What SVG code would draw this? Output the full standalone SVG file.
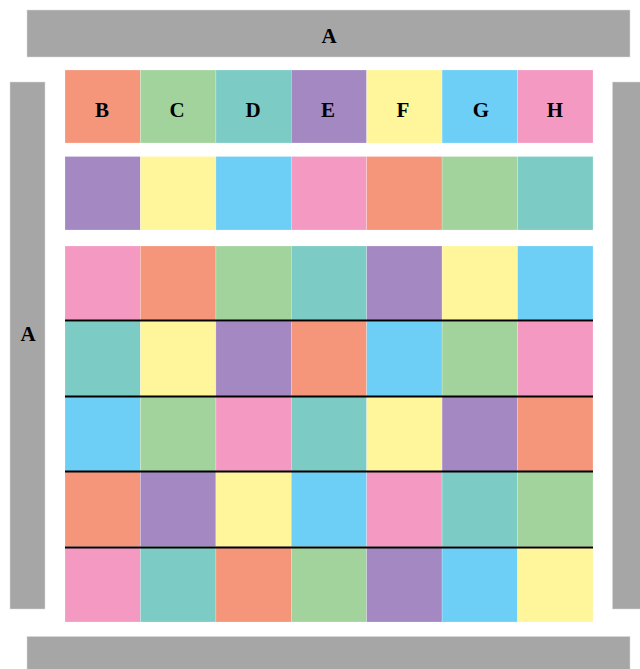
<svg xmlns="http://www.w3.org/2000/svg" width="640" height="669" viewBox="0 0 640 669">
<style>
.bar{fill:#a6a6a6;stroke:#d9d9d9;stroke-width:0.5}
.c{stroke:#ffffff;stroke-opacity:0.35;stroke-width:0.6}
.o{fill:#f5967a}.g{fill:#a3d39c}.t{fill:#7ccbc5}.p{fill:#a388c2}.y{fill:#fff59b}.b{fill:#6dcff6}.k{fill:#f49ac2}
.lbl{font-family:"Liberation Serif","Times New Roman",serif;font-weight:bold;font-size:21px;fill:#000;text-anchor:middle}
.sep{stroke:#000;stroke-width:2}
</style>
<rect width="640" height="669" fill="#ffffff"/>
<g id="bar-top"><rect class="bar" x="27" y="10" width="603" height="47"/><text class="lbl" x="329" y="43">A</text></g>
<g id="bar-left"><rect class="bar" x="10" y="82" width="35" height="527"/><text class="lbl" x="28" y="341">A</text></g>
<g id="bar-right"><rect class="bar" x="612.5" y="82" width="28" height="527"/></g>
<g id="bar-bottom"><rect class="bar" x="27" y="636.5" width="603" height="33"/></g>
<g id="header">
<rect class="c o" x="65" y="70" width="75.4" height="73"/>
<rect class="c g" x="140.4" y="70" width="75.5" height="73"/>
<rect class="c t" x="215.9" y="70" width="75.4" height="73"/>
<rect class="c p" x="291.3" y="70" width="75.4" height="73"/>
<rect class="c y" x="366.7" y="70" width="75.4" height="73"/>
<rect class="c b" x="442.1" y="70" width="75.5" height="73"/>
<rect class="c k" x="517.6" y="70" width="75.4" height="73"/>
<text class="lbl" x="102" y="117">B</text>
<text class="lbl" x="177" y="117">C</text>
<text class="lbl" x="253" y="117">D</text>
<text class="lbl" x="328" y="117">E</text>
<text class="lbl" x="403" y="117">F</text>
<text class="lbl" x="481" y="117">G</text>
<text class="lbl" x="555" y="117">H</text>
</g>
<g id="row2">
<rect class="c p" x="65" y="156.5" width="75.4" height="73.5"/>
<rect class="c y" x="140.4" y="156.5" width="75.5" height="73.5"/>
<rect class="c b" x="215.9" y="156.5" width="75.4" height="73.5"/>
<rect class="c k" x="291.3" y="156.5" width="75.4" height="73.5"/>
<rect class="c o" x="366.7" y="156.5" width="75.4" height="73.5"/>
<rect class="c g" x="442.1" y="156.5" width="75.5" height="73.5"/>
<rect class="c t" x="517.6" y="156.5" width="75.4" height="73.5"/>
</g>
<g id="grid">
<rect class="c k" x="65" y="246" width="75.4" height="75.2"/>
<rect class="c o" x="140.4" y="246" width="75.5" height="75.2"/>
<rect class="c g" x="215.9" y="246" width="75.4" height="75.2"/>
<rect class="c t" x="291.3" y="246" width="75.4" height="75.2"/>
<rect class="c p" x="366.7" y="246" width="75.4" height="75.2"/>
<rect class="c y" x="442.1" y="246" width="75.5" height="75.2"/>
<rect class="c b" x="517.6" y="246" width="75.4" height="75.2"/>

<rect class="c t" x="65" y="321.2" width="75.4" height="75.2"/>
<rect class="c y" x="140.4" y="321.2" width="75.5" height="75.2"/>
<rect class="c p" x="215.9" y="321.2" width="75.4" height="75.2"/>
<rect class="c o" x="291.3" y="321.2" width="75.4" height="75.2"/>
<rect class="c b" x="366.7" y="321.2" width="75.4" height="75.2"/>
<rect class="c g" x="442.1" y="321.2" width="75.5" height="75.2"/>
<rect class="c k" x="517.6" y="321.2" width="75.4" height="75.2"/>

<rect class="c b" x="65" y="396.4" width="75.4" height="75.2"/>
<rect class="c g" x="140.4" y="396.4" width="75.5" height="75.2"/>
<rect class="c k" x="215.9" y="396.4" width="75.4" height="75.2"/>
<rect class="c t" x="291.3" y="396.4" width="75.4" height="75.2"/>
<rect class="c y" x="366.7" y="396.4" width="75.4" height="75.2"/>
<rect class="c p" x="442.1" y="396.4" width="75.5" height="75.2"/>
<rect class="c o" x="517.6" y="396.4" width="75.4" height="75.2"/>

<rect class="c o" x="65" y="471.6" width="75.4" height="75.2"/>
<rect class="c p" x="140.4" y="471.6" width="75.5" height="75.2"/>
<rect class="c y" x="215.9" y="471.6" width="75.4" height="75.2"/>
<rect class="c b" x="291.3" y="471.6" width="75.4" height="75.2"/>
<rect class="c k" x="366.7" y="471.6" width="75.4" height="75.2"/>
<rect class="c t" x="442.1" y="471.6" width="75.5" height="75.2"/>
<rect class="c g" x="517.6" y="471.6" width="75.4" height="75.2"/>

<rect class="c k" x="65" y="546.8" width="75.4" height="75.2"/>
<rect class="c t" x="140.4" y="546.8" width="75.5" height="75.2"/>
<rect class="c o" x="215.9" y="546.8" width="75.4" height="75.2"/>
<rect class="c g" x="291.3" y="546.8" width="75.4" height="75.2"/>
<rect class="c p" x="366.7" y="546.8" width="75.4" height="75.2"/>
<rect class="c b" x="442.1" y="546.8" width="75.5" height="75.2"/>
<rect class="c y" x="517.6" y="546.8" width="75.4" height="75.2"/>
</g>
<g id="connectors">
<line class="sep" x1="65" y1="320.5" x2="593" y2="320.5"/>
<line class="sep" x1="65" y1="396.5" x2="593" y2="396.5"/>
<line class="sep" x1="65" y1="471.5" x2="593" y2="471.5"/>
<line class="sep" x1="65" y1="547.5" x2="593" y2="547.5"/>
</g>
</svg>
